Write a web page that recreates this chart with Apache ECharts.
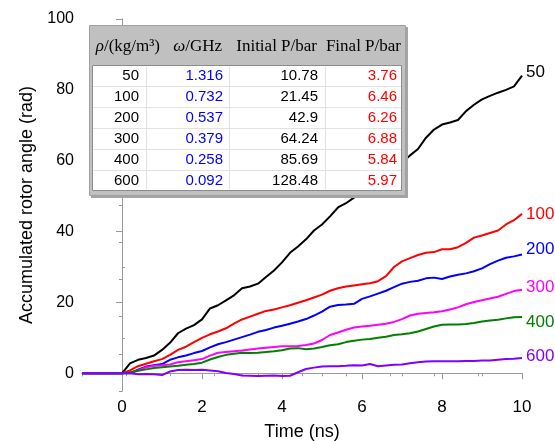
<!DOCTYPE html>
<html>
<head>
<meta charset="utf-8">
<script src="https://cdn.jsdelivr.net/npm/echarts@6/dist/echarts.min.js"></script>
<style>
html, body { margin: 0; padding: 0; background: #fff; }
#chart { width: 555px; height: 441px; }
</style>
</head>
<body>
<div id="chart"></div>
<script>
// time axis (ns), one sample every 0.2 ns after t = 0
const time = [-1, 0, 0.2, 0.4, 0.6, 0.8, 1, 1.2, 1.4, 1.6, 1.8, 2, 2.2, 2.4, 2.6, 2.8, 3, 3.2, 3.4, 3.6, 3.8, 4,
  4.2, 4.4, 4.6, 4.8, 5, 5.2, 5.4, 5.6, 5.8, 6, 6.2, 6.4, 6.6, 6.8, 7, 7.2, 7.4, 7.6, 7.8, 8,
  8.2, 8.4, 8.6, 8.8, 9, 9.2, 9.4, 9.6, 9.8, 10]

const angle50 = [0, 0, 2.8, 3.8, 4.3, 5.0, 6.6, 8.6, 11.3, 12.6, 13.6, 15.2, 18.3, 19.2, 20.6, 22.0, 24.0, 24.5, 25.3, 27.2, 29.0, 31.3,
  34.0, 35.8, 37.8, 40.3, 42.0, 44.3, 46.8, 48.0, 49.6, 50.7, 51.8, 53.5, 55.5, 57.8, 59.6, 61.5, 63.3, 66.5, 68.8, 70.2,
  70.8, 71.5, 74.0, 75.8, 77.3, 78.3, 79.2, 80.0, 81.0, 84.0]
const angle100 = [0, 0, 0.8, 2.0, 2.7, 3.4, 4.0, 5.2, 6.6, 7.5, 8.8, 10.0, 11.0, 11.8, 12.7, 14.0, 15.2, 16.0, 16.8, 17.6, 18.0, 18.6,
  19.2, 19.9, 20.6, 21.4, 22.2, 23.3, 24.0, 24.5, 24.8, 25.1, 25.4, 26.0, 27.4, 30.0, 31.6, 32.5, 33.4, 34.0, 34.2, 35.0,
  35.0, 35.6, 36.8, 38.3, 38.9, 39.6, 40.3, 42.0, 43.2, 45.0]
const angle200 = [0, 0, 0, 1.0, 1.9, 2.3, 2.6, 3.8, 4.5, 5.0, 5.7, 6.3, 7.3, 8.2, 8.8, 9.5, 10.2, 10.9, 11.7, 12.2, 12.9, 13.4,
  14.0, 14.6, 15.3, 16.3, 17.4, 18.8, 19.3, 19.4, 19.6, 21.0, 21.7, 22.5, 23.3, 24.3, 25.3, 25.8, 26.1, 26.8, 27.0, 26.6,
  27.3, 27.8, 28.2, 28.8, 29.6, 30.8, 31.8, 32.6, 33.0, 33.5]
const angle300 = [0, 0, 0.2, 0.8, 1.7, 2.1, 2.3, 2.5, 3.1, 3.4, 3.7, 4.0, 5.0, 5.8, 6.0, 6.2, 6.4, 6.7, 7.0, 7.2, 7.4, 7.6,
  7.6, 7.7, 8.0, 8.4, 9.4, 10.8, 11.5, 12.3, 12.9, 13.2, 13.4, 13.7, 14.0, 14.5, 15.3, 16.3, 16.8, 17.0, 17.2, 17.5,
  18.0, 18.6, 19.5, 20.1, 20.6, 21.1, 21.6, 22.4, 23.2, 23.6]
const angle400 = [0, 0, 0.2, 0.7, 1.1, 1.5, 1.7, 1.9, 2.1, 2.4, 2.6, 3.0, 3.9, 4.6, 5.2, 5.5, 5.8, 5.7, 5.8, 6.0, 6.2, 6.5,
  7.0, 7.1, 6.8, 7.0, 7.4, 7.9, 8.2, 8.8, 9.2, 9.5, 9.7, 10.0, 10.3, 10.8, 11.0, 11.3, 11.8, 12.5, 13.2, 13.7,
  13.8, 13.8, 13.9, 14.2, 14.6, 14.9, 15.1, 15.5, 15.8, 15.9]
const angle600 = [0, 0, 0, -0.3, -0.2, -0.3, -0.5, 0.5, 0.9, 1.0, 0.9, 1.0, 0.8, 0.6, 0.1, -0.2, -0.6, -0.7, -0.8, -0.7, -0.6, -0.8,
  -0.7, 0.3, 1.2, 1.6, 1.9, 2.0, 2.0, 2.1, 2.3, 2.2, 2.6, 2.0, 2.2, 2.4, 2.5, 2.8, 3.1, 3.3, 3.4, 3.4,
  3.4, 3.4, 3.5, 3.5, 3.6, 3.6, 3.8, 4.0, 4.1, 4.3]

// table values
const density = ['50', '100', '200', '300', '400', '600']
const omega = ['1.316', '0.732', '0.537', '0.379', '0.258', '0.092']
const initialP = ['10.78', '21.45', '42.9', '64.24', '85.69', '128.48']
const finalP = ['3.76', '6.46', '6.26', '6.88', '5.84', '5.97']
const tableHeads = ['{i|ρ}/(kg/m³)', '{i|ω}/GHz', 'Initial P/bar', 'Final P/bar']

// ticks
const xMajor = [0, 2, 4, 6, 8, 10]
const xMinor = [-1, 1, 3, 5, 7, 9]
const yMajor = [0, 20, 40, 60, 80, 100]
const yMinor = [10, 30, 50, 70, 90]

const seriesData = [angle50, angle100, angle200, angle300, angle400, angle600]
const colors = ['#000000', '#ff0000', '#0000ff', '#ff00ff', '#008000', '#8000ff']
const labelShift = [-3, 0, -5, -2, 5, -2]

const axisGrey = '#9a9a9a'
const sans = '"Liberation Sans", Arial, sans-serif'
const serif = '"Liberation Serif", "Times New Roman", serif'

const series = seriesData.map((vals, i) => ({
  name: density[i],
  type: 'line',
  showSymbol: false,
  data: vals.map((v, k) => [time[k], v]),
  lineStyle: { color: colors[i], width: 2 },
  itemStyle: { color: colors[i] },
  endLabel: {
    show: true,
    formatter: '{a}',
    color: colors[i],
    fontSize: 17,
    fontFamily: sans,
    distance: 4,
    offset: [0, labelShift[i]]
  }
}))

// table drawn on top of the plot
const colRight = [139, 223, 318, 397]
const headRight = [160, 222, 317, 401]
const rowTop = 65
const rowH = 21
const cols = [density, omega, initialP, finalP]
const colColors = ['#000', '#0000ff', '#000', '#ff0000']

const table = []
table.push({ type: 'rect', z: 100, shape: { x: 91, y: 27, width: 317, height: 171 }, style: { fill: '#a4a4a4' } })
table.push({ type: 'rect', z: 101, shape: { x: 89.5, y: 25.5, width: 316, height: 170 }, style: { fill: '#c0c0c0', stroke: '#a0a0a0', lineWidth: 1 } })
table.push({ type: 'rect', z: 102, shape: { x: 92.5, y: 65.5, width: 309, height: 125 }, style: { fill: '#fff', stroke: '#8c8c8c', lineWidth: 1 } })
for (let r = 1; r < density.length; r++) {
  const y = rowTop + rowH * r + 0.5
  table.push({ type: 'line', z: 103, shape: { x1: 93, y1: y, x2: 401, y2: y }, style: { stroke: '#e2e2e2', lineWidth: 1 } })
}
;[146, 229, 325].forEach(x => {
  table.push({ type: 'line', z: 103, shape: { x1: x + 0.5, y1: 66, x2: x + 0.5, y2: 190 }, style: { stroke: '#e2e2e2', lineWidth: 1 } })
})
tableHeads.forEach((h, c) => {
  table.push({
    type: 'text', z: 104, x: headRight[c], y: 47,
    style: {
      text: h, fill: '#000', fontSize: 17, fontFamily: serif,
      align: 'right', verticalAlign: 'middle', textAlign: 'right', textVerticalAlign: 'middle',
      rich: { i: { fontStyle: 'italic', fontSize: 17, fontFamily: serif, fill: '#000' } }
    }
  })
})
cols.forEach((col, c) => {
  col.forEach((v, r) => {
    table.push({
      type: 'text', z: 104, x: colRight[c], y: rowTop + rowH * r + 10.5,
      style: {
        text: v, fill: colColors[c], fontSize: 15, fontFamily: sans,
        align: 'right', verticalAlign: 'middle', textAlign: 'right', textVerticalAlign: 'middle'
      }
    })
  })
})

const option = {
  animation: false,
  backgroundColor: '#fff',
  grid: { left: 82, right: 33, top: 19, bottom: 50, containLabel: false, outerBoundsMode: 'none' },
  xAxis: [
    {
      type: 'value', position: 'bottom', min: -1, max: 10,
      name: 'Time (ns)', nameLocation: 'middle', nameGap: 32,
      nameTextStyle: { fontSize: 18, color: '#000', fontFamily: sans },
      axisLine: { show: true, lineStyle: { color: axisGrey, width: 1 } },
      axisTick: { show: true, customValues: xMajor, length: 6, lineStyle: { color: axisGrey } },
      axisLabel: { customValues: xMajor, fontSize: 17, color: '#000', fontFamily: sans, margin: 8 },
      splitLine: { show: false }
    },
    {
      type: 'value', position: 'bottom', min: -1, max: 10,
      axisLine: { show: false },
      axisTick: { show: true, customValues: xMinor, length: 3, lineStyle: { color: axisGrey } },
      axisLabel: { show: false },
      splitLine: { show: false }
    },
    {
      type: 'value', position: 'top', min: -1, max: 10, interval: 1.1,
      axisLine: { show: true, lineStyle: { color: axisGrey, width: 1 } },
      axisTick: { show: true, inside: true, length: 3, lineStyle: { color: axisGrey } },
      axisLabel: { show: false },
      splitLine: { show: false }
    }
  ],
  yAxis: [
    {
      type: 'value', position: 'left', min: -5, max: 100,
      name: 'Accumulated rotor angle (rad)', nameLocation: 'middle', nameGap: 46,
      nameTextStyle: { fontSize: 18, color: '#000', fontFamily: sans },
      axisLine: { show: true, lineStyle: { color: axisGrey, width: 1 } },
      axisTick: { show: true, customValues: yMajor, length: 6, lineStyle: { color: axisGrey } },
      axisLabel: { customValues: yMajor, fontSize: 16, color: '#000', fontFamily: sans, margin: 8 },
      splitLine: { show: false }
    },
    {
      type: 'value', position: 'left', min: -5, max: 100,
      axisLine: { show: false },
      axisTick: { show: true, inside: true, customValues: yMinor, length: 3, lineStyle: { color: axisGrey } },
      axisLabel: { show: false },
      splitLine: { show: false }
    },
    {
      type: 'value', position: 'right', min: -5, max: 100, interval: 10.5,
      axisLine: { show: true, lineStyle: { color: axisGrey, width: 1 } },
      axisTick: { show: true, inside: true, length: 3, lineStyle: { color: axisGrey } },
      axisLabel: { show: false },
      splitLine: { show: false }
    }
  ],
  series: series,
  graphic: table
}

const chart = echarts.init(document.getElementById('chart'))
chart.setOption(option)
</script>
</body>
</html>
